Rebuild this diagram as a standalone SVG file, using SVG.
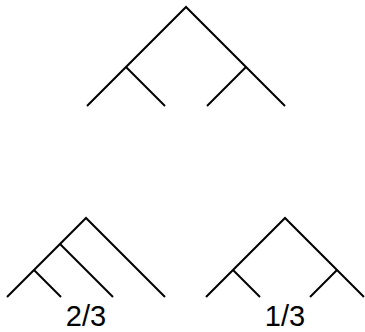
<svg xmlns="http://www.w3.org/2000/svg" width="365" height="332" viewBox="0 0 365 332">
<style>
.e{stroke:#000;stroke-width:2;fill:none;stroke-linecap:butt}
.t{font-family:"Liberation Sans",Arial,sans-serif;font-size:29px;fill:#000;text-anchor:middle}
</style>
<rect width="365" height="332" fill="#fff"/>
<g id="edges">
<g id="tree-top">
<path class="e" d="M87,106 L186,7 L285,106"/>
<path class="e" d="M126,67 L165,106"/>
<path class="e" d="M246,67 L207,106"/>
</g>
<g id="tree-left">
<path class="e" d="M7,297 L86,218 L165,297"/>
<path class="e" d="M60,244 L113,297"/>
<path class="e" d="M34,270 L61,297"/>
</g>
<g id="tree-right">
<path class="e" d="M206,297 L285,218 L364,297"/>
<path class="e" d="M233,270 L260,297"/>
<path class="e" d="M337,270 L310,297"/>
</g>
</g>
<g id="label-left"><text class="t" x="86" y="326">2/3</text></g>
<g id="label-right"><text class="t" x="285" y="326">1/3</text></g>
</svg>
